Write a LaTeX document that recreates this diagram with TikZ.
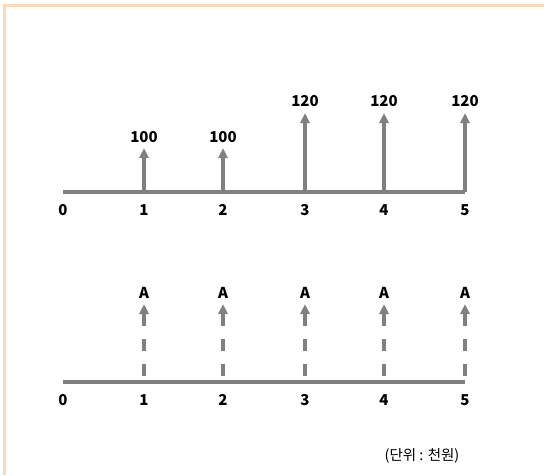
\documentclass[tikz,border=0pt]{standalone}
\usepackage{fontspec}
\setmainfont{Noto Sans CJK KR}
\usetikzlibrary{arrows.meta}
\definecolor{framec}{HTML}{FCD7B8}
\definecolor{linec}{HTML}{808080}
\tikzset{
  axisline/.style={draw=linec, line width=4pt},
  flowarrow/.style={draw=linec, line width=3.2pt, -{Triangle[width=9pt,length=10pt]}},
  flowdash/.style={flowarrow, dash pattern=on 12pt off 13pt},
  numlabel/.style={font=\bfseries\fontsize{15}{16}\selectfont, inner sep=0pt, text=black, anchor=base},
}
\begin{document}
\begin{tikzpicture}[x=1pt,y=-1pt]
\useasboundingbox (0,0) rectangle (544,475);
% frame
\draw[framec, line width=3pt] (3,5.5) -- (544,5.5);
\draw[framec, line width=3pt] (4.5,4) -- (4.5,475);
% top axis points
\coordinate (t0) at (63,192);
\coordinate (t1) at (144,192);
\coordinate (t2) at (223,192);
\coordinate (t3) at (305,192);
\coordinate (t4) at (384,192);
\coordinate (t5) at (465,192);
\draw[axisline] (t0) -- (t5);
% top arrow tips
\coordinate (u1) at (144,148);
\coordinate (u2) at (223,148);
\coordinate (u3) at (305,113);
\coordinate (u4) at (384,113);
\coordinate (u5) at (465,113);
\foreach \i in {1,...,5} \draw[flowarrow] (t\i) -- (u\i);
\node[numlabel] (v1) at (144,142.5) {100};
\node[numlabel] (v2) at (223,142.5) {100};
\node[numlabel] (v3) at (305,106.5) {120};
\node[numlabel] (v4) at (384,106.5) {120};
\node[numlabel] (v5) at (465,106.5) {120};
\foreach \i/\x in {0/63,1/144,2/223,3/305,4/384,5/465}
  \node[numlabel] (tl\i) at (\x,215) {\i};
% bottom axis
\coordinate (b0) at (63,382);
\coordinate (b5) at (465,382);
\draw[axisline] (b0) -- (b5);
\foreach \i/\x in {1/144,2/223,3/305,4/384,5/465}{
  \coordinate (s\i) at (\x,376);
  \coordinate (e\i) at (\x,304);
  \draw[flowdash] (s\i) -- (e\i);
  \node[numlabel] (a\i) at (\x,298.5) {A};
}
\foreach \i/\x in {0/63,1/144,2/223,3/305,4/384,5/465}
  \node[numlabel] (bl\i) at (\x,405) {\i};
\node[inner sep=0pt, font=\fontsize{14.5}{16}\selectfont] (unit) at (422,456) {(단위 : 천원)};
\end{tikzpicture}
\end{document}
